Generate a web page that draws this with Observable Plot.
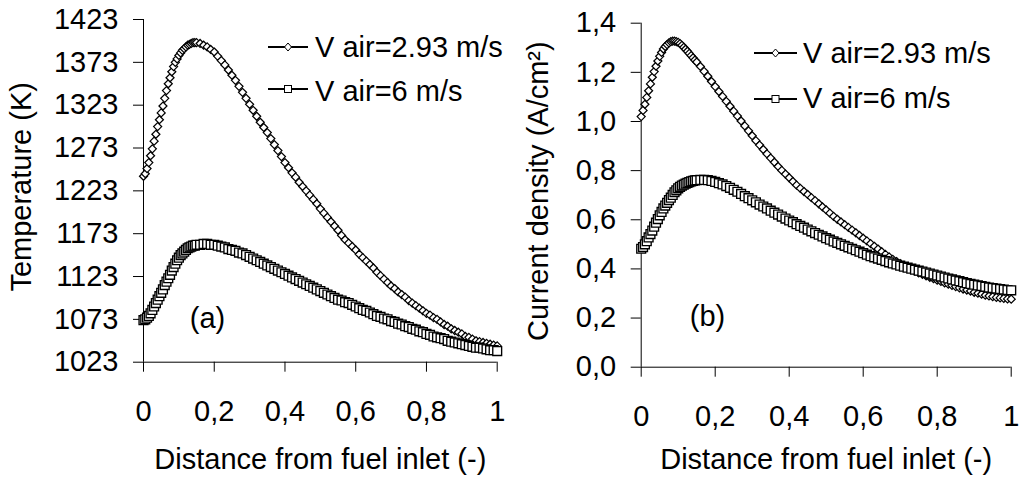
<!DOCTYPE html>
<html><head><meta charset="utf-8">
<script src="https://cdn.jsdelivr.net/npm/d3@7"></script>
<script src="https://cdn.jsdelivr.net/npm/@observablehq/plot@0.6"></script>
<style>
html,body{margin:0;padding:0;background:#fff;}
#wrap{position:relative;width:1020px;height:477px;overflow:hidden;font-family:"Liberation Sans",Arial,Helvetica,sans-serif;background:#fff;}
.panel{position:absolute;top:0;}
.legtxt{position:absolute;font-size:29px;line-height:29px;white-space:nowrap;color:#000;}
.legsvg{position:absolute;overflow:visible;}
</style></head><body><div id="wrap"></div><script>
// ---- data ----
const distance = [0,0.005,0.01,0.015,0.02,0.025,0.03,0.035,0.04,0.045,
0.05,0.055,0.06,0.065,0.07,0.075,0.08,0.085,0.09,0.095,
0.1,0.105,0.11,0.115,0.12,0.125,0.13,0.135,0.14,0.145,0.15,
0.16,0.17,0.18,0.19,
0.2,0.21,0.22,0.23,0.24,0.25,0.26,0.27,0.28,0.29,
0.3,0.31,0.32,0.33,0.34,0.35,0.36,0.37,0.38,0.39,
0.4,0.41,0.42,0.43,0.44,0.45,0.46,0.47,0.48,0.49,
0.5,0.51,0.52,0.53,0.54,0.55,0.56,0.57,0.58,0.59,
0.6,0.61,0.62,0.63,0.64,0.65,0.66,0.67,0.68,0.69,
0.7,0.71,0.72,0.73,0.74,0.75,0.76,0.77,0.78,0.79,
0.8,0.81,0.82,0.83,0.84,0.85,0.86,0.87,0.88,0.89,
0.9,0.91,0.92,0.93,0.94,0.95,0.96,0.97,0.98,0.99,1];

const seriesNames = ["V air=2.93 m/s", "V air=6 m/s"];

const tempV293 = [1240,1243,1249,1256,1264,1272,1281,1289,1298,1306,
1314,1322,1331,1340,1348,1355,1362,1368,1373,1377,
1381,1384,1387,1389,1391,1393,1394,1395,1396,1396,1396,
1395,1393,1391,1388,
1385,1380,1375,1370,1364,1358,1352,1345,1338,1331,
1324,1317,1310,1303,1297,1291,1284,1277,1270,1263,
1256,1250,1244,1239,1233,1228,1223,1218,1213,1208,
1202,1197,1192,1187,1182,1177,1171,1166,1162,1158,
1154,1149,1145,1141,1137,1133,1128,1124,1120,1116,
1112,1109,1105,1102,1099,1095,1092,1089,1086,1083,
1080,1078,1075,1073,1070,1067,1065,1062,1060,1058,
1056,1053,1052,1050,1048,1047,1046,1045,1044,1043,1042];

const tempV6 = [1072,1073,1075,1077,1080,1084,1088,1092,1096,1100,
1104,1108,1113,1117,1121,1125,1130,1134,1138,1142,
1145,1148,1150,1152,1154,1156,1157,1158,1159,1159,1160,
1160,1161,1161,1160,
1160,1159,1158,1157,1155,1154,1153,1151,1150,1148,
1146,1144,1142,1140,1138,1136,1134,1132,1130,1128,
1126,1124,1122,1120,1118,1116,1114,1112,1110,1108,
1106,1104,1102,1100,1098,1096,1095,1093,1092,1090,
1088,1086,1084,1083,1081,1079,1077,1076,1074,1073,
1071,1070,1068,1067,1065,1064,1062,1061,1059,1058,
1056,1055,1053,1052,1051,1050,1048,1047,1046,1045,
1044,1043,1042,1041,1040,1040,1039,1038,1037,1037,1036];

const currV293 = [1.02,1.045,1.07,1.098,1.125,1.153,1.18,1.203,1.225,1.246,
1.265,1.281,1.295,1.305,1.313,1.32,1.325,1.327,1.327,1.325,
1.322,1.317,1.31,1.302,1.294,1.286,1.277,1.268,1.259,1.25,1.242,
1.224,1.204,1.184,1.163,
1.142,1.122,1.102,1.082,1.062,1.042,1.022,1.002,0.982,0.962,
0.942,0.922,0.904,0.886,0.868,0.851,0.834,0.817,0.801,0.786,
0.771,0.756,0.741,0.728,0.715,0.703,0.69,0.678,0.665,0.652,
0.64,0.627,0.614,0.602,0.591,0.58,0.569,0.558,0.547,0.536,
0.525,0.514,0.503,0.492,0.481,0.47,0.459,0.449,0.439,0.43,
0.421,0.413,0.405,0.398,0.391,0.384,0.378,0.372,0.366,0.36,
0.354,0.349,0.343,0.338,0.333,0.328,0.323,0.318,0.314,0.31,
0.305,0.301,0.297,0.293,0.29,0.287,0.284,0.282,0.28,0.278,0.277];

const currV6 = [0.482,0.489,0.5,0.513,0.528,0.542,0.556,0.572,0.588,0.603,
0.618,0.632,0.646,0.658,0.669,0.68,0.69,0.701,0.712,0.72,
0.728,0.734,0.739,0.743,0.747,0.75,0.753,0.756,0.758,0.76,0.761,
0.762,0.762,0.761,0.758,
0.754,0.749,0.744,0.737,0.73,0.722,0.714,0.705,0.696,0.688,
0.679,0.671,0.662,0.654,0.646,0.637,0.629,0.621,0.613,0.605,
0.597,0.59,0.582,0.575,0.568,0.56,0.553,0.546,0.539,0.532,
0.525,0.519,0.512,0.506,0.5,0.494,0.488,0.482,0.476,0.47,
0.464,0.458,0.452,0.447,0.442,0.437,0.432,0.427,0.422,0.418,
0.413,0.409,0.405,0.401,0.397,0.393,0.389,0.385,0.381,0.377,
0.373,0.369,0.365,0.361,0.357,0.353,0.35,0.346,0.342,0.339,
0.336,0.333,0.33,0.327,0.324,0.322,0.32,0.318,0.316,0.314,0.313];

const xTicks = [0, 0.2, 0.4, 0.6, 0.8, 1];
const tempTicks = [1023, 1073, 1123, 1173, 1223, 1273, 1323, 1373, 1423];
const currTicks = [0, 0.2, 0.4, 0.6, 0.8, 1.0, 1.2, 1.4];
const xLabel = "Distance from fuel inlet (-)";

// ---- drawing ----
const fontFamily = '"Liberation Sans", Arial, Helvetica, sans-serif';
const FS = 29;
const xFmt = d => d === 0 ? "0" : d === 1 ? "1" : d.toFixed(1).replace(".", ",");

function panel(o) {
  const d1 = distance.map((x, i) => ({x, y: o.s1[i]}));
  const d2 = distance.map((x, i) => ({x, y: o.s2[i]}));
  const bottomPx = 477 - o.mB;
  return Plot.plot({
    width: 510, height: 477,
    marginLeft: o.mL, marginRight: o.mR, marginTop: o.mT, marginBottom: o.mB,
    style: {fontFamily, fontSize: FS + "px", color: "#000", background: "transparent", overflow: "visible"},
    x: {domain: [0, 1]},
    y: {domain: o.yDomain},
    marks: [
      Plot.axisX({ticks: xTicks, tickFormat: xFmt, tickSize: 10, tickPadding: 28, label: null}),
      Plot.axisY({ticks: o.yTicks, tickFormat: o.yFmt, tickSize: 10, tickPadding: 15, label: null}),
      Plot.ruleX([0], {stroke: "#000", strokeWidth: 1}),
      Plot.ruleY([o.yDomain[0]], {stroke: "#000", strokeWidth: 1}),
      Plot.dot(d1, {x: "x", y: "y", symbol: "diamond2", r: 3.6, stroke: "#000", fill: "#fff", strokeWidth: 1.25}),
      Plot.dot(d2, {x: "x", y: "y", symbol: "square", r: 5, stroke: "#000", fill: "#fff", strokeWidth: 1.35}),
      Plot.text([o.yLabel], {text: d => d, frameAnchor: "left", textAnchor: "middle", lineAnchor: "middle",
        rotate: -90, dx: o.ylabDx, dy: o.ylabDy, fontSize: FS}),
      Plot.text([xLabel], {text: d => d, frameAnchor: "bottom", textAnchor: "middle", lineAnchor: "middle",
        dy: 459 - bottomPx, fontSize: FS}),
      Plot.text([o.tag], {text: d => d, frameAnchor: "top-left", textAnchor: "middle", lineAnchor: "middle",
        dx: o.tagDx, dy: o.tagDy, fontSize: FS})
    ]
  });
}

const wrap = document.getElementById("wrap");

const pa = panel({
  s1: tempV293, s2: tempV6, yDomain: [1023, 1423], yTicks: tempTicks, yFmt: d => String(d),
  yLabel: "Temperature (K)", tag: "(a)",
  mL: 143, mR: 13.3, mT: 19, mB: 115.3, ylabDx: -122, ylabDy: -4, tagDx: 64, tagDy: 299
});
pa.classList.add("panel"); pa.style.left = "0px";
wrap.appendChild(pa);

const pb = panel({
  s1: currV293, s2: currV6, yDomain: [0, 1.4], yTicks: currTicks, yFmt: d => d.toFixed(1).replace(".", ","),
  yLabel: "Current density (A/cm²)", tag: "(b)",
  mL: 130.7, mR: 9.3, mT: 22.7, mB: 110.3, ylabDx: -102.7, ylabDy: -4, tagDx: 66.3, tagDy: 293.3
});
pb.classList.add("panel"); pb.style.left = "510px";
wrap.appendChild(pb);

// ---- legends ----
function legendRow(lineLeft, lineRight, lineY, textLeft, textCenter, label, shape) {
  const w = lineRight - lineLeft;
  const svg = d3.create("svg").attr("class", "legsvg")
    .attr("width", w).attr("height", 16)
    .style("left", lineLeft + "px").style("top", (lineY - 8) + "px");
  svg.append("line").attr("x1", 0).attr("x2", w).attr("y1", 8).attr("y2", 8)
    .attr("stroke", "#000").attr("stroke-width", 2);
  const cx = w / 2;
  if (shape === "diamond") {
    svg.append("path").attr("d", `M${cx},4 L${cx + 3.5},8 L${cx},12 L${cx - 3.5},8 Z`)
      .attr("fill", "#fff").attr("stroke", "#000").attr("stroke-width", 1);
  } else {
    svg.append("rect").attr("x", cx - 3.5).attr("y", 4.5).attr("width", 7).attr("height", 7)
      .attr("fill", "#fff").attr("stroke", "#000").attr("stroke-width", 1);
  }
  wrap.appendChild(svg.node());
  const t = document.createElement("div");
  t.className = "legtxt";
  t.textContent = label;
  t.style.left = textLeft + "px";
  t.style.top = (textCenter - 0.488 * FS) + "px";
  wrap.appendChild(t);
}
legendRow(268, 308, 47, 315, 47, seriesNames[0], "diamond");
legendRow(268, 308, 89, 315, 91, seriesNames[1], "square");
legendRow(754, 797, 53, 803, 53, seriesNames[0], "diamond");
legendRow(754, 797, 99, 803, 98, seriesNames[1], "square");
</script></body></html>
